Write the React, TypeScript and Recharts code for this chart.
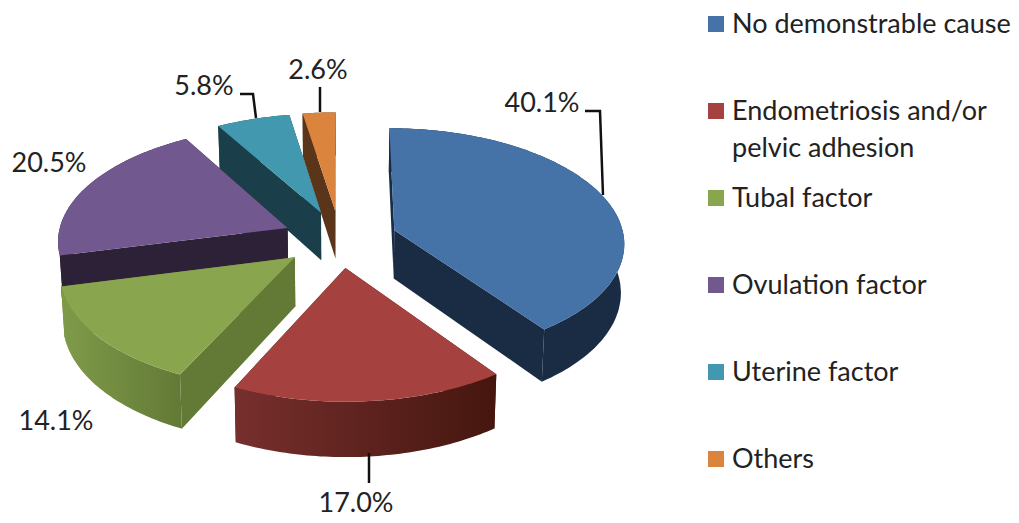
import { Legend, Pie, PieChart } from 'recharts'

// ── Data ──────────────────────────────────────────────────────────────────────

const CAUSES = [
  'No demonstrable cause',
  'Endometriosis and/or pelvic adhesion',
  'Tubal factor',
  'Ovulation factor',
  'Uterine factor',
  'Others',
]
const SHARES = [40.1, 17.0, 14.1, 20.5, 5.8, 2.6]
const SHARE_LABELS = ['40.1%', '17.0%', '14.1%', '20.5%', '5.8%', '2.6%']

// ── Styles ────────────────────────────────────────────────────────────────────

const TOP_COLORS = ['#4572a7', '#a5423f', '#89a54e', '#71588f', '#4198af', '#db843d']
const SIDE_COLORS = ['#1a2c44', '#45160f', '#637a36', '#2d2138', '#1a3e4a', '#5b3519']
const WALL_START_COLORS = ['#1a2c44', '#772f2d', '#7f9b49', '#2d2138', '#1a3e4a', '#5b3519']

const FONT = 'Lato, sans-serif'
const FONT_SIZE = 27
const TEXT_COLOR = '#222'

// label anchor [x, baseline] and leader polyline, same order as CAUSES
const LABEL_POS = [
  [542, 112],
  [356, 512],
  [56, 430],
  [49, 172],
  [204, 95],
  [318, 79],
]
const LEADERS = [
  '585,111 600,111 603,195',
  '369,453 369,483',
  '',
  '',
  '240,94 253,94 256,118',
  '320,87 320,112',
]

// view of the tilted pie
const SQUASH = 114 / 230
const PERSPECTIVE = 0.1
const EXPLODE = 0.25
const DEPTH = 48.5
const BOTTOM_SHRINK = 0.988 // the lower rim sits further from the eye

// drawn back to front so the front slices cover the back ones
const tableData = CAUSES.map((name, i) => ({
  name,
  value: SHARES[i],
  fill: TOP_COLORS[i],
  idx: i,
})).reverse()

const toPath = (pts: { x: number; y: number }[]) =>
  'M' + pts.map((p) => `${p.x.toFixed(1)},${p.y.toFixed(1)}`).join('L') + 'Z'

// ── Slice ─────────────────────────────────────────────────────────────────────

function Slice3D(props: any) {
  const { cx, cy, outerRadius: r, startAngle, endAngle, midAngle, payload } = props
  const i = payload.idx
  const mid = (midAngle * Math.PI) / 180
  const ex = EXPLODE * Math.cos(mid)
  const ef = -EXPLODE * Math.sin(mid)

  // unit-plane point (x across, f towards the viewer) to screen
  const project = (x: number, f: number) => {
    const s = 1 / (1 - PERSPECTIVE * f)
    return { x: cx + r * x * s, y: cy + r * SQUASH * f * s, s }
  }
  const rim = (deg: number) => {
    const t = (deg * Math.PI) / 180
    return project(ex + Math.cos(t), ef - Math.sin(t))
  }
  const down = (p: { x: number; y: number; s: number }) => ({
    x: cx + (p.x - cx) * BOTTOM_SHRINK,
    y: p.y + DEPTH * p.s,
    s: p.s,
  })

  const steps = Math.max(2, Math.ceil(Math.abs(endAngle - startAngle)))
  const arc = Array.from({ length: steps + 1 }, (_, k) =>
    rim(startAngle + ((endAngle - startAngle) * k) / steps),
  )
  const apex = project(ex, ef)
  const xs = arc.map((p) => p.x)
  const gradId = `wall-${i}`

  return (
    <g>
      <defs>
        <linearGradient
          id={gradId}
          gradientUnits="userSpaceOnUse"
          x1={Math.min(...xs)}
          x2={Math.max(...xs)}
          y1={0}
          y2={0}
        >
          <stop offset="0%" stopColor={WALL_START_COLORS[i]} />
          <stop offset="100%" stopColor={SIDE_COLORS[i]} />
        </linearGradient>
      </defs>
      <path d={toPath([apex, arc[0], down(arc[0]), down(apex)])} fill={SIDE_COLORS[i]} />
      <path
        d={toPath([apex, arc[arc.length - 1], down(arc[arc.length - 1]), down(apex)])}
        fill={SIDE_COLORS[i]}
      />
      <path d={toPath([...arc, ...arc.map(down).reverse()])} fill={`url(#${gradId})`} />
      <path d={toPath([apex, ...arc])} fill={TOP_COLORS[i]} />
    </g>
  )
}

// ── Labels and legend ─────────────────────────────────────────────────────────

function SliceLabel(props: any) {
  const i = props.payload.idx
  const [x, y] = LABEL_POS[i]
  return (
    <g>
      {LEADERS[i] && <polyline points={LEADERS[i]} fill="none" stroke="#111" strokeWidth={2.5} />}
      <text x={x} y={y} textAnchor="middle" fontFamily={FONT} fontSize={FONT_SIZE} fill={TEXT_COLOR}>
        {SHARE_LABELS[i]}
      </text>
    </g>
  )
}

function LegendList({ payload }: any) {
  const items = [...(payload ?? [])].sort(
    (a: any, b: any) => CAUSES.indexOf(a.value) - CAUSES.indexOf(b.value),
  )
  return (
    <div style={{ fontFamily: FONT, fontSize: FONT_SIZE, lineHeight: '37px', color: TEXT_COLOR }}>
      {items.map((item: any) => (
        <div key={item.value} style={{ position: 'relative', height: 87, paddingLeft: 24, width: 284 }}>
          <span
            style={{
              position: 'absolute',
              left: 0,
              top: 16,
              width: 16,
              height: 16,
              background: item.color,
            }}
          />
          <div style={{ paddingTop: 4 }}>{item.value}</div>
        </div>
      ))}
    </div>
  )
}

// ── App ───────────────────────────────────────────────────────────────────────

export default function App() {
  return (
    <div style={{ position: 'absolute', left: 0, top: 0, width: 1019, height: 523, background: '#fff' }}>
      <PieChart width={1019} height={523} margin={{ top: 0, right: 0, bottom: 0, left: 0 }}>
        <Pie
          data={tableData}
          dataKey="value"
          nameKey="name"
          cx={340}
          cy={239}
          innerRadius={0}
          outerRadius={230}
          startAngle={90}
          endAngle={450}
          stroke="none"
          shape={Slice3D}
          label={SliceLabel}
          labelLine={false}
          isAnimationActive={false}
        />
        <Legend
          layout="vertical"
          align="right"
          verticalAlign="top"
          content={LegendList}
          wrapperStyle={{ left: 708, top: 0, right: 'auto', bottom: 'auto', width: 310 }}
        />
      </PieChart>
    </div>
  )
}
